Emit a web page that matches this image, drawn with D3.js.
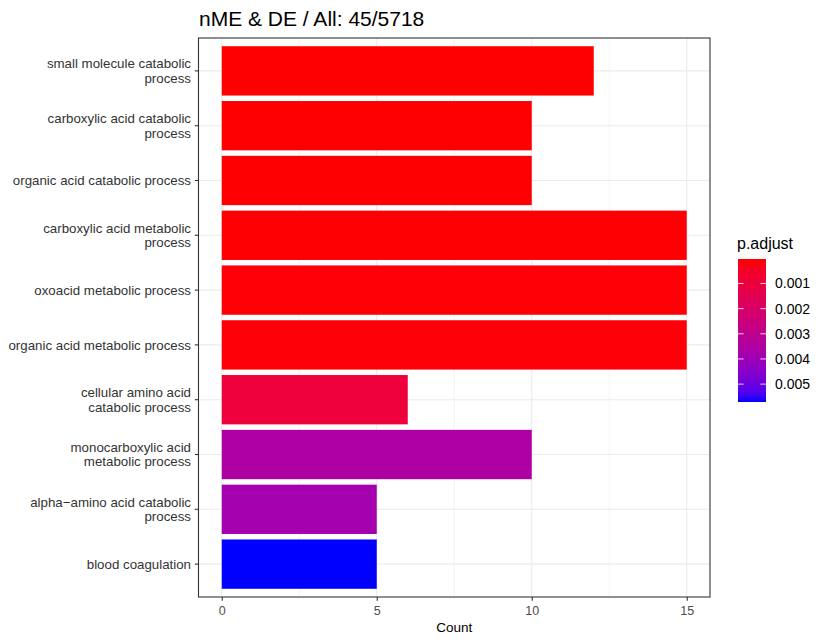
<!DOCTYPE html>
<html>
<head>
<meta charset="utf-8">
<script src="https://cdn.jsdelivr.net/npm/d3@7"></script>
<style>
  body { margin: 0; background: #fff; }
  text { font-family: "Liberation Sans", Arial, sans-serif; }
</style>
</head>
<body>
<script>
// data: GO terms top to bottom
const terms = [
  ["small molecule catabolic", "process"],
  ["carboxylic acid catabolic", "process"],
  ["organic acid catabolic process"],
  ["carboxylic acid metabolic", "process"],
  ["oxoacid metabolic process"],
  ["organic acid metabolic process"],
  ["cellular amino acid", "catabolic process"],
  ["monocarboxylic acid", "metabolic process"],
  ["alpha\u2212amino acid catabolic", "process"],
  ["blood coagulation"],
];
const counts = [12, 10, 10, 15, 15, 15, 6, 10, 5, 5];
const pAdjust = [0.000028, 0.000035, 0.000045, 0.000055, 0.00007, 0.00009, 0.00098, 0.0035, 0.0038, 0.00571];
const xTicks = [0, 5, 10, 15];
const xMinor = [2.5, 7.5, 12.5];
const legendTicks = [0.001, 0.002, 0.003, 0.004, 0.005];

const W = 830, H = 644;
const panel = { left: 198.5, right: 710, top: 38, bottom: 597 };

const svg = d3.select("body").append("svg")
  .attr("width", W).attr("height", H)
  .attr("viewBox", [0, 0, W, H]);

// scales (ggplot-style 5% expansion on x)
const xScale = d3.scaleLinear()
  .domain([-0.75, 15.75])
  .range([panel.left, panel.right]);
const yScale = d3.scaleBand()
  .domain(d3.range(terms.length))
  .range([panel.top, panel.bottom])
  .paddingInner(0.1)
  .paddingOuter(0.15);
const pExtent = d3.extent(pAdjust);
const colorScale = d3.scaleLinear()
  .domain(pExtent)
  .range(["red", "blue"])
  .interpolate(d3.interpolateLab);

// grid
const grid = svg.append("g").attr("stroke", "#EBEBEB");
grid.selectAll(".minor").data(xMinor).join("line")
  .attr("x1", d => xScale(d)).attr("x2", d => xScale(d))
  .attr("y1", panel.top).attr("y2", panel.bottom)
  .attr("stroke-width", 0.6);
grid.selectAll(".major").data(xTicks).join("line")
  .attr("x1", d => xScale(d)).attr("x2", d => xScale(d))
  .attr("y1", panel.top).attr("y2", panel.bottom)
  .attr("stroke-width", 1.1);
grid.selectAll(".hmajor").data(terms).join("line")
  .attr("x1", panel.left).attr("x2", panel.right)
  .attr("y1", (_, i) => yScale(i) + yScale.bandwidth() / 2)
  .attr("y2", (_, i) => yScale(i) + yScale.bandwidth() / 2)
  .attr("stroke-width", 1.1);

// bars
svg.append("g").selectAll("rect").data(counts).join("rect")
  .attr("x", xScale(0))
  .attr("y", (_, i) => yScale(i))
  .attr("width", d => xScale(d) - xScale(0))
  .attr("height", yScale.bandwidth())
  .attr("fill", (_, i) => colorScale(pAdjust[i]));

// panel border
svg.append("rect")
  .attr("x", panel.left).attr("y", panel.top)
  .attr("width", panel.right - panel.left)
  .attr("height", panel.bottom - panel.top)
  .attr("fill", "none").attr("stroke", "#333").attr("stroke-width", 1.1);

// x axis
const xAxis = svg.append("g")
  .attr("transform", `translate(0, ${panel.bottom})`)
  .call(d3.axisBottom(xScale).tickValues(xTicks).tickSize(3.7).tickPadding(5));
xAxis.select(".domain").remove();
xAxis.selectAll(".tick line").attr("stroke", "#333").attr("stroke-width", 1.1);
xAxis.selectAll(".tick text")
  .attr("fill", "#4D4D4D")
  .style("font-size", "12.5px")
  .style("font-family", "'Liberation Sans', Arial, sans-serif");

svg.append("text")
  .attr("x", (panel.left + panel.right) / 2).attr("y", 632)
  .attr("text-anchor", "middle")
  .style("font-size", "13.5px")
  .attr("fill", "#000")
  .text("Count");

// y axis: ticks + wrapped labels
const yAxis = svg.append("g");
yAxis.selectAll("line").data(terms).join("line")
  .attr("x1", panel.left - 3.7).attr("x2", panel.left)
  .attr("y1", (_, i) => yScale(i) + yScale.bandwidth() / 2)
  .attr("y2", (_, i) => yScale(i) + yScale.bandwidth() / 2)
  .attr("stroke", "#333").attr("stroke-width", 1.1);
const lineH = 14.5;
yAxis.selectAll("text").data(terms).join("text")
  .attr("text-anchor", "end")
  .attr("fill", "#333")
  .style("font-size", "13.3px")
  .each(function (d, i) {
    const cy = yScale(i) + yScale.bandwidth() / 2;
    const y0 = cy - (d.length - 1) * lineH / 2;
    d3.select(this).selectAll("tspan").data(d).join("tspan")
      .attr("x", 191)
      .attr("y", (_, j) => y0 + j * lineH)
      .attr("dy", "0.35em")
      .text(t => t);
  });

// title
svg.append("text")
  .attr("x", 199).attr("y", 26)
  .style("font-size", "21px")
  .attr("fill", "#000")
  .text("nME & DE / All: 45/5718");

// legend colourbar
const legend = { x: 738, w: 28, top: 259, bottom: 402 };
const legendY = d3.scaleLinear().domain(pExtent).range([legend.top, legend.bottom]);
const grad = svg.append("defs").append("linearGradient")
  .attr("id", "pgrad").attr("x1", 0).attr("x2", 0).attr("y1", 0).attr("y2", 1);
grad.selectAll("stop").data(d3.range(0, 1.0001, 0.05)).join("stop")
  .attr("offset", d => d)
  .attr("stop-color", d => colorScale(pExtent[0] + d * (pExtent[1] - pExtent[0])));
svg.append("rect")
  .attr("x", legend.x).attr("y", legend.top)
  .attr("width", legend.w).attr("height", legend.bottom - legend.top)
  .attr("fill", "url(#pgrad)");
const lt = svg.append("g").attr("stroke", "#fff").attr("stroke-opacity", 0.8).attr("stroke-width", 1);
lt.selectAll(".l").data(legendTicks).join("line")
  .attr("x1", legend.x).attr("x2", legend.x + legend.w / 5)
  .attr("y1", d => legendY(d)).attr("y2", d => legendY(d));
lt.selectAll(".r").data(legendTicks).join("line")
  .attr("x1", legend.x + legend.w * 4 / 5).attr("x2", legend.x + legend.w)
  .attr("y1", d => legendY(d)).attr("y2", d => legendY(d));
svg.append("g").selectAll("text").data(legendTicks).join("text")
  .attr("x", 775).attr("y", d => legendY(d)).attr("dy", "0.35em")
  .style("font-size", "14px")
  .attr("fill", "#000")
  .text(d => d3.format(".3f")(d));
svg.append("text")
  .attr("x", 737).attr("y", 249)
  .style("font-size", "16px")
  .attr("fill", "#000")
  .text("p.adjust");
</script>
</body>
</html>
